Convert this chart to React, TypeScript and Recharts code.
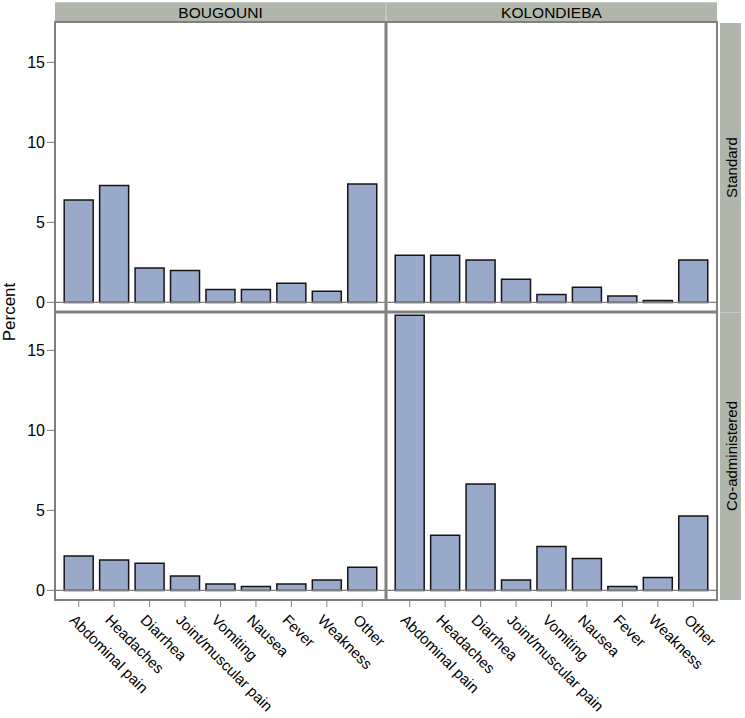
import React from 'react';
import { BarChart, Bar, XAxis, YAxis, ReferenceLine } from 'recharts';

const categories = ['Abdominal pain', 'Headaches', 'Diarrhea', 'Joint/muscular pain', 'Vomiting', 'Nausea', 'Fever', 'Weakness', 'Other'];
const districts = ['BOUGOUNI', 'KOLONDIEBA'];
const regimens = ['Standard', 'Co-administered'];
const bougouniStandard = [6.4, 7.3, 2.15, 2.0, 0.8, 0.8, 1.2, 0.7, 7.4];
const kolondiebaStandard = [2.95, 2.95, 2.65, 1.45, 0.5, 0.95, 0.4, 0.12, 2.65];
const bougouniCoadmin = [2.15, 1.9, 1.7, 0.9, 0.4, 0.25, 0.4, 0.65, 1.45];
const kolondiebaCoadmin = [17.2, 3.45, 6.65, 0.65, 2.75, 2.0, 0.25, 0.8, 4.65];
const yTicks = [0, 5, 10, 15];
const yDomain = [-0.6, 17.4];

const FONT = '"Liberation Sans", Arial, sans-serif';
const FILL = '#98A9C9';
const GRID = '#808080';
const STRIP = '#B0B7AA';

const toRows = (vals: number[]) => categories.map((c, i) => ({ cat: c, v: vals[i] }));

const RotTick = (props: any) => {
  const { x, y, payload } = props;
  const ax = x - 10;
  const ay = y + 12;
  return (
    <text x={ax} y={ay} transform={`rotate(45, ${ax}, ${ay})`} textAnchor="start" fontSize={15} fontFamily={FONT} fill="#000">
      {payload.value}
    </text>
  );
};

const Panel = ({ vals, left, top, showY, showX }: { vals: number[]; left: number; top: number; showY: boolean; showX: boolean }) => {
  const extra = showY ? 40 : 28;
  const width = (showY ? 386 : 331) + extra;
  const height = showX ? 288 + 118 : 288;
  return (
    <div style={{ position: 'absolute', left, top }}>
      <BarChart width={width} height={height} data={toRows(vals)} margin={{ top: 0, right: extra, bottom: 0, left: 0 }} barCategoryGap="9%">
        {showX ? (
          <XAxis dataKey="cat" padding={{ left: 6, right: 6 }} height={118} interval={0} tickSize={7} tickLine={{ stroke: GRID }} axisLine={false} tick={<RotTick />} />
        ) : (
          <XAxis dataKey="cat" padding={{ left: 6, right: 6 }} hide />
        )}
        {showY ? (
          <YAxis type="number" domain={yDomain} ticks={yTicks} allowDataOverflow width={55} tickSize={8} tickLine={{ stroke: GRID }} axisLine={false} tick={{ fontSize: 16, fill: '#000', fontFamily: FONT }} />
        ) : (
          <YAxis type="number" domain={yDomain} ticks={yTicks} allowDataOverflow hide />
        )}
        <ReferenceLine y={0} stroke={GRID} strokeWidth={1.2} />
        <Bar dataKey="v" fill={FILL} stroke="#151515" strokeWidth={1.5} isAnimationActive={false} />
      </BarChart>
    </div>
  );
};

export default function App() {
  return (
    <div style={{ position: 'absolute', left: 0, top: 0, width: 745, height: 718, background: '#fff', fontFamily: FONT }}>
      <Panel vals={bougouniStandard} left={0} top={24} showY showX={false} />
      <Panel vals={kolondiebaStandard} left={386} top={24} showY={false} showX={false} />
      <Panel vals={bougouniCoadmin} left={0} top={312} showY showX />
      <Panel vals={kolondiebaCoadmin} left={386} top={312} showY={false} showX />
      <svg width={745} height={718} style={{ position: 'absolute', left: 0, top: 0, pointerEvents: 'none' }}>
        <rect x={55} y={2} width={331} height={20} fill={STRIP} />
        <rect x={386} y={2} width={331} height={20} fill={STRIP} />
        <line x1={55} y1={2.5} x2={717} y2={2.5} stroke="#c8ccc4" strokeWidth={1} />
        <line x1={386} y1={2} x2={386} y2={22} stroke="#c8ccc4" strokeWidth={1.5} />
        <text x={220.5} y={17.5} textAnchor="middle" fontSize={15.5} fontFamily={FONT} fill="#000">{districts[0]}</text>
        <text x={551.5} y={17.5} textAnchor="middle" fontSize={15.5} fontFamily={FONT} fill="#000">{districts[1]}</text>
        <rect x={720} y={23} width={21} height={289} fill={STRIP} />
        <rect x={720} y={313} width={21} height={287} fill={STRIP} />
        <line x1={720} y1={312.5} x2={741} y2={312.5} stroke="#c8ccc4" strokeWidth={1} />
        <text x={737} y={167.5} transform="rotate(-90, 737, 167.5)" textAnchor="middle" fontSize={15} fontFamily={FONT} fill="#000">{regimens[0]}</text>
        <text x={737} y={456} transform="rotate(-90, 737, 456)" textAnchor="middle" fontSize={15} fontFamily={FONT} fill="#000">{regimens[1]}</text>
        <rect x={55} y={22} width={662} height={578} fill="none" stroke={GRID} strokeWidth={2} />
        <line x1={386} y1={22} x2={386} y2={600} stroke={GRID} strokeWidth={3} />
        <line x1={55} y1={312} x2={717} y2={312} stroke={GRID} strokeWidth={3} />
        <text x={15} y={312} transform="rotate(-90, 15, 312)" textAnchor="middle" fontSize={17} fontFamily={FONT} fill="#000">Percent</text>
      </svg>
    </div>
  );
}
